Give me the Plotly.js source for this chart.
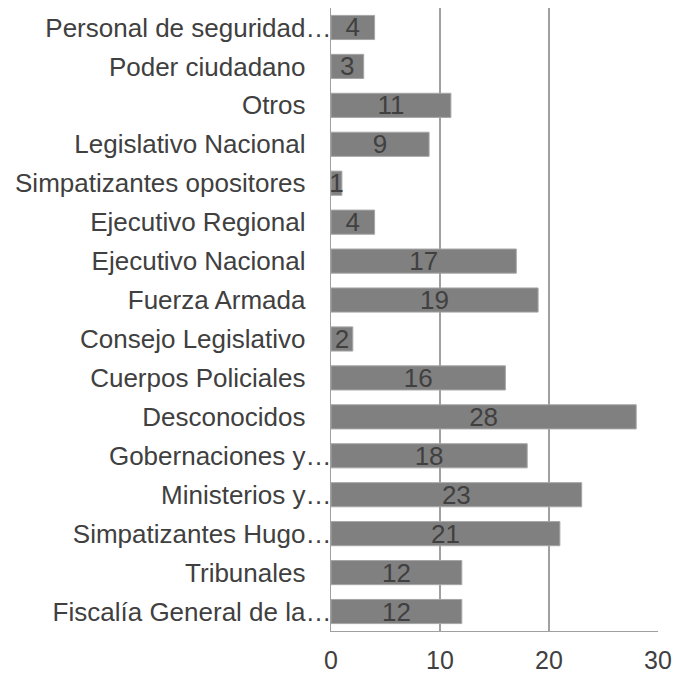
<!DOCTYPE html>
<html><head><meta charset="utf-8">
<script src="https://cdn.plot.ly/plotly-3.0.1.min.js"></script>
<style>html,body{margin:0;padding:0;background:#fff}#chart{width:677px;height:675px}</style>
</head><body><div id="chart"></div>
<script>
const categories = ["Fiscalía General de la…","Tribunales","Simpatizantes Hugo…","Ministerios y…","Gobernaciones y…","Desconocidos","Cuerpos Policiales","Consejo Legislativo","Fuerza Armada","Ejecutivo Nacional","Ejecutivo Regional","Simpatizantes opositores","Legislativo Nacional","Otros","Poder ciudadano","Personal de seguridad…"];
const values = [12,12,21,23,18,28,16,2,19,17,4,1,9,11,3,4];
const xTicks = [0,10,20,30];

// truncated labels run up to the axis; full labels keep a gap
const tickText = categories.map(c => c.endsWith('…') ? c : c + '\u2002\u2002');

Plotly.newPlot('chart', [{
  type: 'bar', orientation: 'h', y: categories, x: values,
  marker: {color: '#808080', line: {color: '#a6a6a6', width: 1}},
  text: values.map(String), textposition: 'inside', insidetextanchor: 'middle', textangle: 0,
  textfont: {family: 'Liberation Sans, Arial, sans-serif', size: 26, color: '#404040'},
  constraintext: 'none', cliponaxis: false, hoverinfo: 'none'
}], {
  width: 677, height: 675,
  margin: {l: 331, r: 19, t: 8, b: 44},
  paper_bgcolor: '#fff', plot_bgcolor: '#fff',
  bargap: 0.38, showlegend: false,
  font: {family: 'Liberation Sans, Arial, sans-serif', size: 26, color: '#404040'},
  xaxis: {range: [0, 30], tickvals: xTicks, ticktext: xTicks.map(String), showgrid: true, gridcolor: '#a0a0a0', gridwidth: 1.3,
          zeroline: false, showline: true, linecolor: '#a0a0a0', linewidth: 1.3, mirror: false, ticks: '', ticklabelstandoff: 7,
          tickfont: {size: 25, color: '#404040'}, fixedrange: true, automargin: false},
  yaxis: {type: 'category', categoryorder: 'array', categoryarray: categories, tickvals: categories, ticktext: tickText,
          showgrid: false, zeroline: false,
          showline: true, linecolor: '#a0a0a0', linewidth: 1.3, ticks: '', ticklabelstandoff: -7,
          tickfont: {size: 26, color: '#404040'}, fixedrange: true, automargin: false}
}, {staticPlot: true});
</script></body></html>
